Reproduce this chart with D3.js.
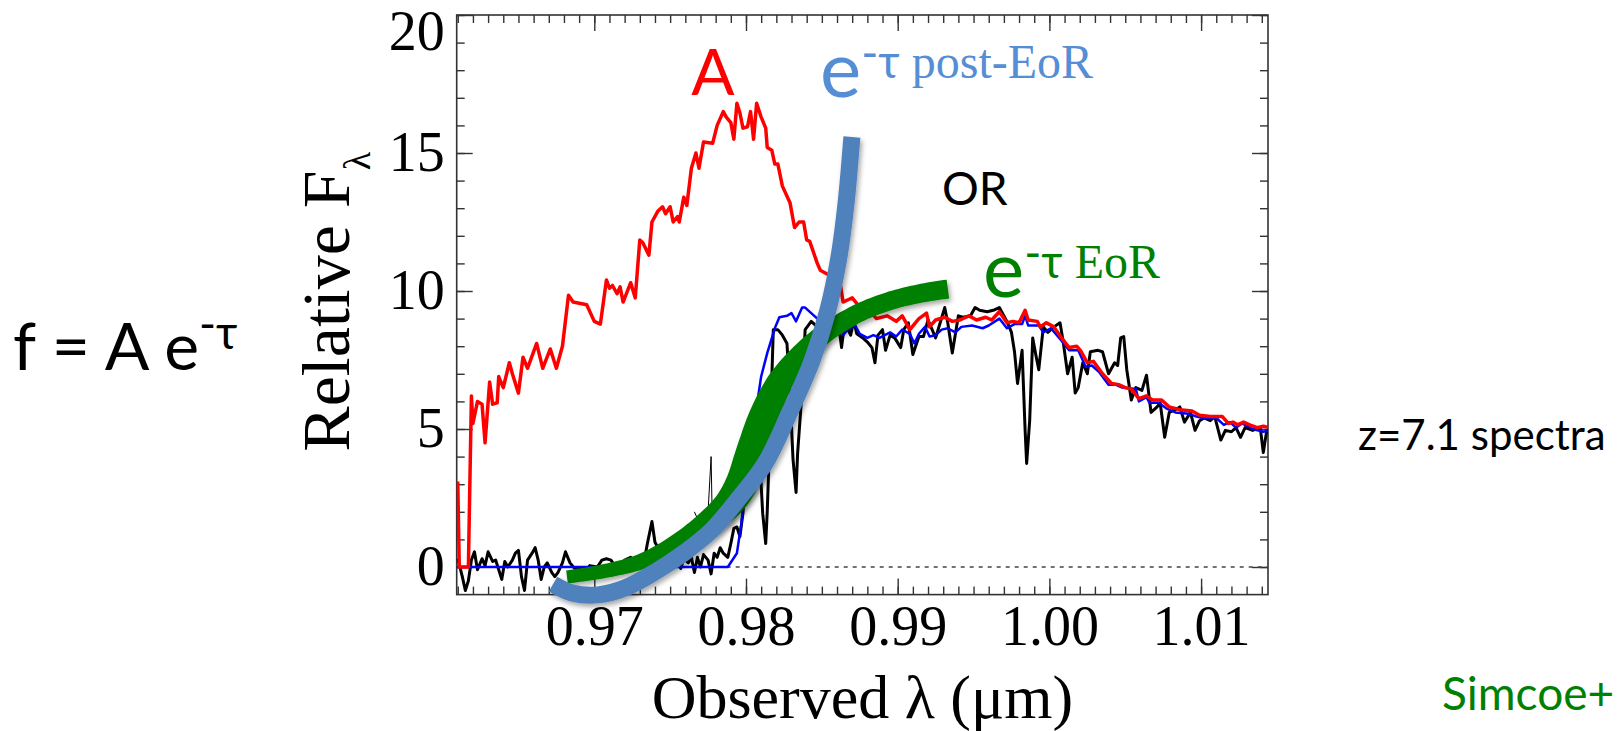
<!DOCTYPE html>
<html lang="en">
<head>
<meta charset="UTF-8">
<title>z=7.1 spectra</title>
<script src="https://cdn.jsdelivr.net/npm/d3@7"></script>
<style>
  html, body { margin: 0; padding: 0; background: #fff; overflow: hidden; }
  svg { display: block; }
</style>
</head>
<body>
<script>
// ---- chart values ----
const xDomain = [0.96093, 1.01441];
const yDomain = [-1, 20];
const xTicks = [0.97, 0.98, 0.99, 1.00, 1.01];
const xTickLabels = ["0.97", "0.98", "0.99", "1.00", "1.01"];
const yTicks = [0, 5, 10, 15, 20];
const yTickLabels = ["0", "5", "10", "15", "20"];

// observed spectrum (black)
const obsLam = [0.9610,0.9613,0.9615,0.9617,0.9619,0.9621,0.9623,0.9626,0.9628,0.9630,0.9633,0.9635,0.9637,0.9639,0.9641,0.9643,0.9646,0.9648,0.9650,0.9652,0.9654,0.9656,0.9659,0.9661,0.9663,0.9665,0.9667,0.9669,0.9672,0.9674,0.9676,0.9679,0.9681,0.9684,0.9687,0.9690,0.9694,0.9697,0.9702,0.9705,0.9708,0.9711,0.9714,0.9717,0.9720,0.9724,0.9727,0.9730,0.9733,0.9735,0.9738,0.9740,0.9742,0.9745,0.9747,0.9750,0.9752,0.9755,0.9757,0.9759,0.9762,0.9764,0.9766,0.9768,0.9770,0.9772,0.9775,0.9777,0.9779,0.9781,0.9783,0.9785,0.9788,0.9790,0.9792,0.9794,0.9796,0.9798,0.9799,0.9803,0.9806,0.9809,0.9811,0.9813,0.9814,0.9817,0.9818,0.9821,0.9824,0.9827,0.9829,0.9831,0.9833,0.9834,0.9837,0.9839,0.9843,0.9847,0.9851,0.9853,0.9855,0.9857,0.9861,0.9863,0.9865,0.9869,0.9871,0.9873,0.9877,0.9880,0.9883,0.9885,0.9887,0.9890,0.9892,0.9895,0.9898,0.9902,0.9904,0.9907,0.9910,0.9914,0.9917,0.9920,0.9925,0.9928,0.9931,0.9933,0.9936,0.9940,0.9943,0.9948,0.9951,0.9954,0.9959,0.9963,0.9967,0.9972,0.9975,0.9977,0.9979,0.9982,0.9984,0.9985,0.9987,0.9989,0.9991,0.9993,0.9996,0.9999,1.0003,1.0007,1.0009,1.0012,1.0015,1.0017,1.0019,1.0022,1.0025,1.0027,1.0032,1.0035,1.0037,1.0039,1.0043,1.0045,1.0047,1.0049,1.0051,1.0054,1.0057,1.0061,1.0064,1.0067,1.0071,1.0073,1.0076,1.0079,1.0083,1.0086,1.0089,1.0093,1.0096,1.0099,1.0102,1.0106,1.0109,1.0113,1.0116,1.0120,1.0123,1.0126,1.0129,1.0134,1.0139,1.0141,1.0143,1.0145];
const obsFlux = [0.3,-0.35,-0.85,-0.5,0.25,0.55,-0.1,0.3,0.05,0.55,0.2,0.25,-0.1,-0.45,0.2,0.0,0.25,0.5,0.6,-0.35,-0.85,0.25,0.5,0.7,0.25,-0.45,0.0,0.15,-0.2,-0.35,-0.2,0.15,0.55,0.15,-0.05,-0.05,-0.2,0.05,0.0,0.25,0.3,0.25,0.0,-0.1,0.25,0.35,0.0,-0.05,0.25,0.85,1.65,0.9,0.7,-0.2,0.25,0.1,0.25,0.15,-0.05,0.3,0.15,0.35,-0.2,0.35,0.0,0.45,0.25,-0.25,0.5,0.35,0.7,0.5,0.35,0.85,1.4,1.45,1.1,1.95,2.9,3.6,3.9,4.0,1.95,0.85,2.0,6.8,8.6,8.6,8.4,8.1,6.3,3.9,2.7,4.1,6.4,8.6,8.9,8.7,9.05,8.2,9.25,8.85,8.8,7.95,8.85,8.4,8.95,8.45,8.3,8.15,7.95,7.4,8.4,8.6,7.85,8.4,8.3,7.95,8.6,8.85,7.7,8.35,8.35,8.95,8.3,8.85,9.4,8.85,7.75,9.1,9.05,9.1,9.4,9.3,9.25,9.3,9.4,8.9,8.5,7.8,6.65,7.85,4.95,3.75,5.3,8.3,7.7,7.15,8.7,8.5,8.7,8.85,8.2,7.0,7.6,6.3,6.5,7.4,7.0,7.8,7.85,7.8,7.4,7.0,7.4,7.3,8.3,8.35,7.15,6.05,6.5,6.4,6.95,5.6,5.8,5.95,4.7,5.6,5.7,5.8,5.25,5.6,4.95,5.3,5.4,5.3,5.45,4.6,4.95,4.9,5.05,4.7,5.05,4.95,5.05,4.15,4.85,5.05];

// thin spike seen through the shadow
const spikeLam = [0.9766, 0.9774, 0.9777, 0.9778];
const spikeFlux = [2.0, 1.0, 4.0, 1.0];

// model spectrum (blue)
const modelLam = [0.9609,0.9788,0.9794,0.9797,0.9799,0.9803,0.9807,0.9810,0.9814,0.9819,0.9822,0.9827,0.9830,0.9833,0.9837,0.9839,0.9843,0.9847,0.9851,0.9855,0.9862,0.9864,0.9867,0.9872,0.9875,0.9880,0.9884,0.9888,0.9895,0.9899,0.9903,0.9908,0.9911,0.9914,0.9918,0.9921,0.9925,0.9929,0.9933,0.9938,0.9942,0.9949,0.9956,0.9960,0.9967,0.9972,0.9977,0.9982,0.9984,0.9986,0.9993,0.9996,1.0001,1.0008,1.0013,1.0019,1.0024,1.0028,1.0033,1.0039,1.0044,1.0048,1.0057,1.0059,1.0064,1.0066,1.0072,1.0077,1.0083,1.0092,1.0097,1.0101,1.0110,1.0115,1.0119,1.0123,1.0127,1.0134,1.0141,1.0145];
const modelFlux = [0,0,0.5,1.6,2.7,4.1,5.8,6.9,7.75,8.65,9.05,9.1,9.2,8.9,9.4,9.4,9.2,9.0,8.95,9.05,9.0,8.4,8.6,8.75,8.45,8.3,8.4,8.3,8.5,8.35,8.6,8.45,8.1,8.45,8.7,8.35,8.4,8.6,8.65,8.5,8.7,8.75,8.65,8.75,9.0,8.65,8.8,8.8,9.1,8.75,8.75,8.5,8.65,8.2,7.85,7.85,7.25,7.3,7.05,6.6,6.6,6.5,6.45,6.0,6.15,5.95,5.95,5.75,5.6,5.55,5.45,5.4,5.4,5.15,5.25,5.05,5.2,5.0,4.9,4.95];

// intrinsic spectrum A (red)
const aLam = [0.9610,0.9611,0.9617,0.9619,0.9620,0.9623,0.9626,0.9628,0.9631,0.9633,0.9636,0.9637,0.9640,0.9644,0.9646,0.9650,0.9653,0.9656,0.9662,0.9666,0.9671,0.9675,0.9679,0.9683,0.9686,0.9695,0.9700,0.9704,0.9708,0.9710,0.9712,0.9715,0.9717,0.9719,0.9724,0.9727,0.9730,0.9732,0.9736,0.9738,0.9742,0.9745,0.9747,0.9750,0.9752,0.9755,0.9756,0.9759,0.9761,0.9764,0.9767,0.9769,0.9772,0.9778,0.9781,0.9785,0.9787,0.9790,0.9792,0.9794,0.9796,0.9798,0.9801,0.9803,0.9805,0.9807,0.9810,0.9813,0.9814,0.9817,0.9819,0.9821,0.9824,0.9829,0.9832,0.9835,0.9838,0.9840,0.9842,0.9847,0.9849,0.9854,0.9857,0.9862,0.9864,0.9868,0.9870,0.9873,0.9877,0.9882,0.9886,0.9893,0.9899,0.9903,0.9908,0.9914,0.9919,0.9921,0.9925,0.9931,0.9936,0.9941,0.9947,0.9952,0.9958,0.9962,0.9967,0.9972,0.9976,0.9980,0.9984,0.9986,0.9992,0.9994,0.9998,1.0003,1.0008,1.0013,1.0018,1.0021,1.0025,1.0029,1.0035,1.0041,1.0046,1.0050,1.0054,1.0059,1.0064,1.0068,1.0074,1.0079,1.0086,1.0094,1.0099,1.0106,1.0114,1.0118,1.0121,1.0124,1.0128,1.0132,1.0137,1.0141,1.0145];
const aFlux = [3.1,0,0,6.2,5.2,6.0,5.9,4.5,6.7,5.9,5.95,6.9,6.5,7.4,7.0,6.3,7.6,7.2,8.1,7.2,7.9,7.2,8.0,9.85,9.6,9.5,8.9,8.8,10.4,10.1,10.2,9.9,10.15,9.6,10.3,9.75,11.85,11.75,11.3,12.5,12.9,13.05,12.8,13.05,12.5,12.7,12.5,13.4,13.1,14.45,15.0,14.45,15.4,15.35,16.0,16.5,16.3,16.1,15.5,16.8,16.45,15.9,15.95,16.5,15.5,16.8,16.3,15.9,15.2,15.1,14.6,14.6,13.8,13.2,12.3,12.5,12.5,11.85,11.8,11.0,10.75,10.6,10.45,10.3,9.6,9.7,9.75,9.55,9.3,9.25,9.0,9.1,8.9,9.1,8.6,9.0,9.2,8.7,8.95,9.05,8.9,8.95,9.1,8.95,9.05,8.95,9.25,8.85,8.9,8.85,9.3,8.95,8.9,8.7,8.85,8.7,8.3,7.95,8.0,7.8,7.4,7.45,7.0,6.65,6.6,6.5,6.45,6.1,6.2,6.05,6.05,5.8,5.7,5.65,5.5,5.45,5.45,5.2,5.25,5.15,5.25,5.15,5.05,5.1,5.05];

// hand-drawn transmission sketches
const postEorLam = [0.96728,0.96853,0.97024,0.97202,0.97400,0.97598,0.97775,0.97960,0.98131,0.98289,0.98434,0.98540,0.98612,0.98659,0.98698];
const postEorFlux = [-0.62,-0.94,-1.01,-0.76,-0.18,0.54,1.34,2.54,3.80,5.62,7.46,9.31,11.2,13.15,15.58];
const eorLam = [0.96820,0.97037,0.97301,0.97532,0.97729,0.97881,0.97973,0.98046,0.98125,0.98224,0.98355,0.98507,0.98731,0.98948,0.99166,0.99331];
const eorFlux = [-0.36,-0.18,0.18,0.80,1.52,2.25,3.04,4.17,5.51,6.70,7.64,8.41,9.17,9.64,9.93,10.07];

// ---- layout ----
const width = 1618, height = 731;
const plot = {left: 456.7, right: 1268, top: 15, bottom: 594.6};
const serif = '"Liberation Serif", "Times New Roman", serif';
const sans = 'Lato, "Open Sans", sans-serif';
const axisColor = "#333";

const svg = d3.select("body").append("svg")
  .attr("width", width).attr("height", height);

const defs = svg.append("defs");
defs.append("clipPath").attr("id", "plotClip")
  .append("rect")
  .attr("x", plot.left).attr("y", plot.top)
  .attr("width", plot.right - plot.left).attr("height", plot.bottom - plot.top);
defs.append("filter").attr("id", "shadow")
  .attr("x", "-20%").attr("y", "-20%").attr("width", "140%").attr("height", "140%")
  .append("feDropShadow")
  .attr("dx", 2).attr("dy", 3).attr("stdDeviation", 2.5)
  .attr("flood-color", "#000").attr("flood-opacity", 0.35);

const x = d3.scaleLinear().domain(xDomain).range([plot.left, plot.right]);
const y = d3.scaleLinear().domain(yDomain).range([plot.bottom, plot.top]);

const minorX = d3.range(961, 1015).map(d => d / 1000);
const minorY = d3.range(0, 21);

// axes: ticks inward on all four sides
function styleAxis(g) {
  g.select(".domain").remove();
  g.selectAll(".tick line").attr("stroke", axisColor).attr("stroke-width", 1.4);
  g.selectAll("text").style("font-family", serif).style("font-size", "56px").attr("fill", "#000");
}
svg.append("g").attr("transform", `translate(0,${plot.bottom})`)
  .call(d3.axisBottom(x).tickValues(minorX).tickSize(-8).tickFormat("")).call(styleAxis);
svg.append("g").attr("transform", `translate(0,${plot.bottom})`)
  .call(d3.axisBottom(x).tickValues(xTicks).tickSize(-16).tickPadding(11)
    .tickFormat((d, i) => xTickLabels[i])).call(styleAxis);
svg.append("g").attr("transform", `translate(0,${plot.top})`)
  .call(d3.axisTop(x).tickValues(minorX).tickSize(-8).tickFormat("")).call(styleAxis);
svg.append("g").attr("transform", `translate(0,${plot.top})`)
  .call(d3.axisTop(x).tickValues(xTicks).tickSize(-16).tickFormat("")).call(styleAxis);
svg.append("g").attr("transform", `translate(${plot.left},0)`)
  .call(d3.axisLeft(y).tickValues(minorY).tickSize(-8).tickFormat("")).call(styleAxis);
svg.append("g").attr("transform", `translate(${plot.left},0)`)
  .call(d3.axisLeft(y).tickValues(yTicks).tickSize(-16).tickPadding(12)
    .tickFormat((d, i) => yTickLabels[i])).call(styleAxis)
  // the top label sits a little below its tick so it stays on the page
  .call(g => g.selectAll(".tick text").filter(d => d === 20).attr("dy", "0.62em"));
svg.append("g").attr("transform", `translate(${plot.right},0)`)
  .call(d3.axisRight(y).tickValues(minorY).tickSize(-8).tickFormat("")).call(styleAxis);
svg.append("g").attr("transform", `translate(${plot.right},0)`)
  .call(d3.axisRight(y).tickValues(yTicks).tickSize(-16).tickFormat("")).call(styleAxis);

svg.append("rect")
  .attr("x", plot.left).attr("y", plot.top)
  .attr("width", plot.right - plot.left).attr("height", plot.bottom - plot.top)
  .attr("fill", "none").attr("stroke", axisColor).attr("stroke-width", 1.6);

// zero line
svg.append("line")
  .attr("x1", plot.left).attr("x2", plot.right)
  .attr("y1", y(0)).attr("y2", y(0))
  .attr("stroke", "#444").attr("stroke-width", 1.3).attr("stroke-dasharray", "4,5");

// spectra
const line = d3.line().x(d => x(d[0])).y(d => y(d[1]));
const spectra = svg.append("g").attr("clip-path", "url(#plotClip)");
spectra.append("path").datum(d3.zip(obsLam, obsFlux))
  .attr("d", line).attr("fill", "none").attr("stroke", "#000").attr("stroke-width", 3)
  .attr("stroke-linejoin", "round");
spectra.append("path").datum(d3.zip(spikeLam, spikeFlux))
  .attr("d", line).attr("fill", "none").attr("stroke", "#000").attr("stroke-width", 1);
spectra.append("path").datum(d3.zip(modelLam, modelFlux))
  .attr("d", line).attr("fill", "none").attr("stroke", "#0000ff").attr("stroke-width", 2.5)
  .attr("stroke-linejoin", "round");
spectra.append("path").datum(d3.zip(aLam, aFlux))
  .attr("d", line).attr("fill", "none").attr("stroke", "#ff0000").attr("stroke-width", 3.5)
  .attr("stroke-linejoin", "round");

// EoR sketch: tapered band (thin at the ends, fat in the middle)
const smooth = d3.line().x(d => x(d[0])).y(d => y(d[1])).curve(d3.curveCatmullRom);
const guide = svg.append("path").attr("d", smooth(d3.zip(eorLam, eorFlux))).attr("fill", "none");
const gNode = guide.node(), L = gNode.getTotalLength();
const sideA = [], sideB = [];
for (let i = 0; i <= 160; i++) {
  const s = L * i / 160, t = i / 160;
  const p = gNode.getPointAtLength(s);
  const p0 = gNode.getPointAtLength(Math.max(0, s - 1));
  const p1 = gNode.getPointAtLength(Math.min(L, s + 1));
  const dx = p1.x - p0.x, dy = p1.y - p0.y, n = Math.hypot(dx, dy) || 1;
  const w = (13 + 6 * t + 18 * Math.exp(-Math.pow((t - 0.45) / 0.2, 2))) / 2;
  sideA.push([p.x - dy / n * w, p.y + dx / n * w]);
  sideB.push([p.x + dy / n * w, p.y - dx / n * w]);
}
guide.remove();
svg.append("path")
  .attr("d", "M" + sideA.concat(sideB.reverse()).map(p => p.join(",")).join("L") + "Z")
  .attr("fill", "#008000").attr("filter", "url(#shadow)");

// post-EoR sketch
svg.append("path").datum(d3.zip(postEorLam, postEorFlux))
  .attr("d", smooth).attr("fill", "none")
  .attr("stroke", "#4F81BD").attr("stroke-width", 17).attr("stroke-linecap", "butt")
  .attr("filter", "url(#shadow)");

// axis titles
svg.append("text")
  .attr("transform", `translate(349,${(plot.top + plot.bottom) / 2 - 3}) rotate(-90)`)
  .attr("text-anchor", "middle").style("font-family", serif).style("font-size", "68px")
  .text("Relative F")
  .append("tspan").attr("baseline-shift", "sub").style("font-size", "38px").text("λ");
svg.append("text")
  .attr("x", (plot.left + plot.right) / 2).attr("y", 718)
  .attr("text-anchor", "middle").style("font-family", serif).style("font-size", "62px")
  .text("Observed λ (μm)");

// "e^-τ": the minus sits level with the top bar of the τ
function expTau(sel, size, raise) {
  sel.append("tspan").attr("dy", -raise - 9).style("font-family", sans).style("font-size", size + "px").text("-");
  sel.append("tspan").attr("dy", 9).style("font-family", sans).style("font-size", size + "px").text("τ");
}

// annotations
const formula = svg.append("text").attr("x", 13).attr("y", 370)
  .style("font-family", sans).style("font-size", "66px").attr("fill", "#000");
formula.append("tspan").text("f = A e");
formula.call(expTau, 46, 21);

svg.append("text").attr("x", 713).attr("y", 95).attr("text-anchor", "middle")
  .style("font-family", sans).style("font-size", "64px").attr("fill", "#ff0000").text("A");

const post = svg.append("text").attr("x", 820).attr("y", 97).attr("fill", "#558ED5");
post.append("tspan").style("font-family", sans).style("font-size", "78px").text("e");
post.call(expTau, 46, 19);
post.append("tspan").style("font-family", serif).style("font-size", "48px").text(" post-EoR");

svg.append("text").attr("x", 942).attr("y", 205)
  .style("font-family", sans).style("font-size", "46px").attr("fill", "#000").text("OR");

const eor = svg.append("text").attr("x", 983).attr("y", 297).attr("fill", "#008000");
eor.append("tspan").style("font-family", sans).style("font-size", "78px").text("e");
eor.call(expTau, 46, 19);
eor.append("tspan").style("font-family", serif).style("font-size", "48px").text(" EoR");

svg.append("text").attr("x", 1358).attr("y", 450)
  .style("font-family", sans).style("font-size", "42px").attr("fill", "#000").text("z=7.1 spectra");
svg.append("text").attr("x", 1442).attr("y", 710)
  .style("font-family", sans).style("font-size", "46px").attr("fill", "#008000").text("Simcoe+");
</script>
</body>
</html>
